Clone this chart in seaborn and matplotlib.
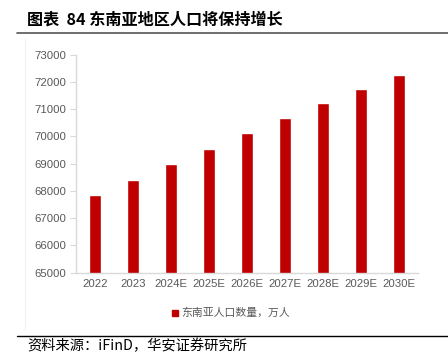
import seaborn as sns
import matplotlib.pyplot as plt
import pandas as pd

# Dados: população do Sudeste Asiático (万人)
anos = ['2022', '2023', '2024E', '2025E', '2026E', '2027E', '2028E', '2029E', '2030E']
populacao = [67830, 68380, 68975, 69550, 70110, 70665, 71220, 71730, 72245]
serie_nome = '东南亚人口数量，万人'

df = pd.DataFrame({'ano': anos, 'pop': populacao, 'serie': serie_nome})

sns.set_style('white')
plt.rcParams['font.family'] = ['Liberation Sans', 'Noto Sans CJK SC', 'DejaVu Sans']

fig = plt.figure(figsize=(4.48, 3.53), dpi=100, facecolor='white')
ax = fig.add_axes([0.1696, 0.228, 0.7634, 0.617])

sns.barplot(data=df, x='ano', y='pop', hue='serie', palette=['#C00000'],
            saturation=1, width=0.31, ax=ax, legend=False)
ax.set_ylim(65000, 73000)
ax.set_xlim(-0.5, 8.5)
ax.set_yticks(range(65000, 73001, 1000))
ax.set_xlabel('')
ax.set_ylabel('')

cinza = '#595959'
ax.tick_params(axis='y', colors='#D9D9D9', labelcolor=cinza, labelsize=8.2,
               length=4, width=0.8, direction='out', left=True, pad=3)
ax.tick_params(axis='x', colors=cinza, labelsize=8.2, length=0, pad=5)
for s in ['top', 'right']:
    ax.spines[s].set_visible(False)
for s in ['left', 'bottom']:
    ax.spines[s].set_color('#D9D9D9')
    ax.spines[s].set_linewidth(1.0)

# Legenda manual
fig.patches.append(plt.Rectangle((172 / 448, 1 - 316 / 353), 6 / 448, 6 / 353,
                                 transform=fig.transFigure, color='#C00000'))
fig.text(181 / 448, 1 - 313 / 353, serie_nome, fontsize=7.8, color=cinza,
         va='center', ha='left', family=['Noto Sans CJK SC', 'DejaVu Sans'])

# Título e linhas do relatório
fig.text(27 / 448, 1 - 20 / 353, '图表  84 东南亚地区人口将保持增长', fontsize=11.6,
         fontweight='bold', color='black', va='center', ha='left',
         family=['Noto Sans CJK SC', 'DejaVu Sans'])
fig.add_artist(plt.Line2D([17 / 448, 1], [1 - 33 / 353] * 2, color='#555555', lw=1.2,
                          transform=fig.transFigure))
fig.add_artist(plt.Line2D([25 / 448, 25 / 448], [1 - 38 / 353, 1 - 330 / 353],
                          color='#F2F2F2', lw=0.8, transform=fig.transFigure))
fig.add_artist(plt.Line2D([17 / 448, 1], [1 - 336 / 353] * 2, color='black', lw=1.0,
                          transform=fig.transFigure))
fig.text(27 / 448, 1 - 346 / 353, '资料来源：iFinD，华安证券研究所', fontsize=10.3,
         color='black', va='center', ha='left',
         family=['Noto Sans CJK SC', 'DejaVu Sans'])

plt.savefig('out.png', dpi=100, facecolor='white')
plt.close()
